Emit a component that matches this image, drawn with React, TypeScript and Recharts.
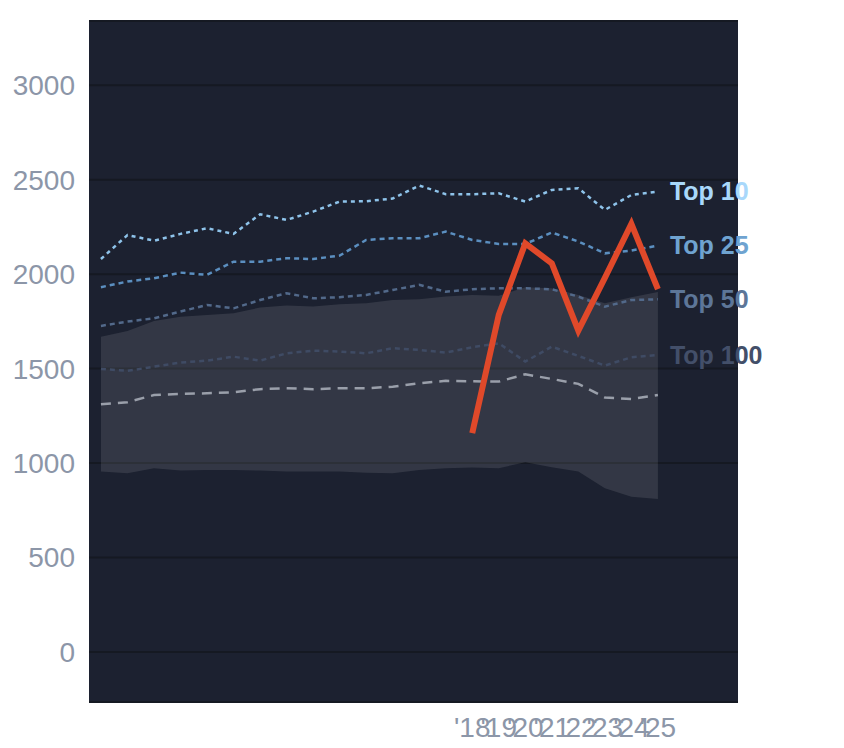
import React from "react";
import { ComposedChart, Line, Area, XAxis, YAxis, CartesianGrid } from "recharts";

const years = [2004, 2005, 2006, 2007, 2008, 2009, 2010, 2011, 2012, 2013, 2014, 2015, 2016, 2017, 2018, 2019, 2020, 2021, 2022, 2023, 2024, 2025];
const top10 = [2080, 2207, 2177, 2213, 2243, 2213, 2317, 2287, 2331, 2384, 2386, 2400, 2469, 2423, 2423, 2428, 2384, 2446, 2455, 2340, 2419, 2437];
const top25 = [1931, 1961, 1978, 2008, 1996, 2066, 2066, 2084, 2080, 2098, 2181, 2190, 2190, 2225, 2181, 2160, 2160, 2220, 2173, 2110, 2125, 2151];
const top50 = [1726, 1749, 1766, 1802, 1837, 1819, 1863, 1899, 1872, 1878, 1890, 1916, 1943, 1907, 1920, 1925, 1925, 1920, 1881, 1828, 1863, 1867];
const top100 = [1498, 1488, 1510, 1532, 1542, 1563, 1542, 1581, 1595, 1590, 1581, 1608, 1599, 1585, 1613, 1634, 1537, 1616, 1567, 1516, 1560, 1572];
const median = [1311, 1322, 1360, 1366, 1369, 1375, 1391, 1396, 1391, 1396, 1396, 1404, 1422, 1435, 1433, 1431, 1470, 1445, 1419, 1347, 1339, 1360];
const bandLow = [955, 946, 973, 960, 963, 963, 960, 955, 955, 955, 949, 946, 963, 973, 976, 973, 1004, 978, 955, 866, 822, 810];
const bandHigh = [1669, 1699, 1752, 1775, 1784, 1793, 1823, 1834, 1828, 1840, 1846, 1863, 1867, 1881, 1890, 1885, 1931, 1925, 1890, 1846, 1878, 1906];
const selected = [null, null, null, null, null, null, null, null, null, null, null, null, null, null, 1158, 1784, 2163, 2057, 1701, 1980, 2266, 1920];
const xTicks = [2018, 2019, 2020, 2021, 2022, 2023, 2024, 2025];
const yTicks = [0, 500, 1000, 1500, 2000, 2500, 3000];

const data = years.map((year, i) => ({
  year,
  top10: top10[i],
  top25: top25[i],
  top50: top50[i],
  top100: top100[i],
  median: median[i],
  band: [bandLow[i], bandHigh[i]],
  selected: selected[i],
}));

const last = years.length - 1;

// name tag at the right end of each reference line
const endLabel = (text: string, color: string) => (props: any) => {
  if (props.index !== last) return null;
  return (
    <text x={props.x + 12} y={props.y} dy="0.35em" fill={color} fontSize={25} fontWeight="bold">
      {text}
    </text>
  );
};

const tickStyle = { fill: "#8c96a8", fontSize: 28 };

export default function App() {
  return (
    <div style={{ fontFamily: "'Liberation Sans', Arial, sans-serif" }}>
      <ComposedChart width={828} height={740} data={data} margin={{ top: 13, right: 98, left: 0, bottom: 0 }}>
        <CartesianGrid fill="#1c2130" vertical={false} stroke="#151922" strokeWidth={2} />
        <XAxis
          dataKey="year"
          type="number"
          domain={[2003.55, 2028.02]}
          ticks={xTicks}
          tickFormatter={(v) => "'" + String(v).slice(2)}
          axisLine={false}
          tickLine={false}
          tick={tickStyle}
          tickMargin={9}
          height={46}
          interval={0}
        />
        <YAxis
          type="number"
          domain={[-265, 3340]}
          ticks={yTicks}
          axisLine={false}
          tickLine={false}
          tick={tickStyle}
          tickMargin={8}
          width={81}
          interval={0}
        />
        <Area dataKey="band" stroke="none" fill="#ffffff" fillOpacity={0.1} isAnimationActive={false} />
        <Line dataKey="median" stroke="#9a9faa" strokeWidth={2.5} strokeDasharray="10 7" dot={false} isAnimationActive={false} />
        <Line dataKey="top100" stroke="#3f4b64" strokeWidth={2.5} strokeDasharray="5 4" dot={false} isAnimationActive={false} label={endLabel("Top 100", "#434f69")} />
        <Line dataKey="top50" stroke="#52698a" strokeWidth={2.5} strokeDasharray="5 4" dot={false} isAnimationActive={false} label={endLabel("Top 50", "#5d7698")} />
        <Line dataKey="top25" stroke="#5b8fc0" strokeWidth={2.5} strokeDasharray="5 4" dot={false} isAnimationActive={false} label={endLabel("Top 25", "#6fa3d0")} />
        <Line dataKey="top10" stroke="#8ec3ea" strokeWidth={2.5} strokeDasharray="4 4" dot={false} isAnimationActive={false} label={endLabel("Top 10", "#a9d8fb")} />
        <Line dataKey="selected" stroke="#e0492a" strokeWidth={6} dot={false} isAnimationActive={false} connectNulls={false} />
      </ComposedChart>
    </div>
  );
}
